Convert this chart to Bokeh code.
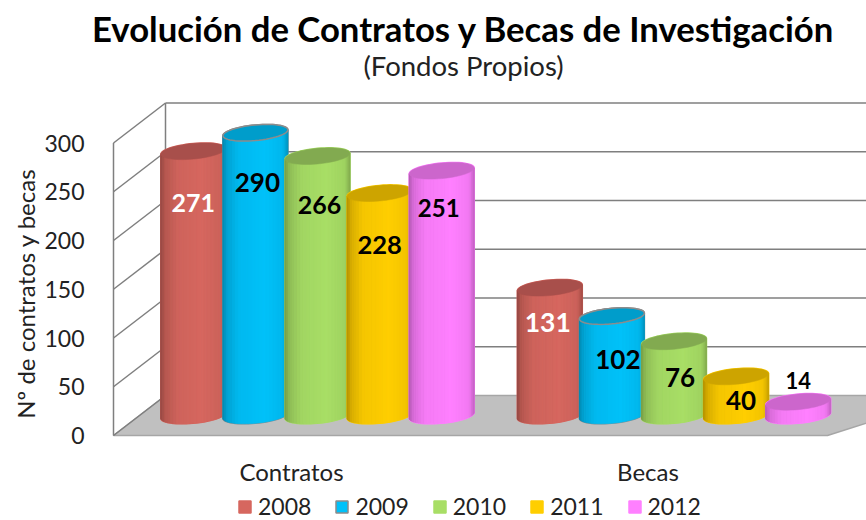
import numpy as np
from bokeh.core.properties import value
from bokeh.embed import file_html
from bokeh.resources import INLINE
from bokeh.plotting import figure
from bokeh.models import Range1d, Legend, LegendItem, FixedTicker

groups = ["Contratos", "Becas"]
years = ["2008", "2009", "2010", "2011", "2012"]
contratos = [271, 290, 266, 228, 251]
becas = [131, 102, 76, 40, 14]
series_colors = ["#D6675F", "#00C1F9", "#A8DE66", "#FFCE00", "#FF80FF"]
top_colors = ["#A84F4B", "#009DCB", "#82AA50", "#CDA400", "#CC66CC"]
value_ticks = [0, 50, 100, 150, 200, 250, 300]
title_text = "Evolución de Contratos y Becas de Investigación"
subtitle_text = "(Fondos Propios)"
ylabel_text = "Nº de contratos y becas"
label_colors = [["white", "black", "black", "black", "black"],
                ["white", "black", "black", "black", "black"]]
label_sizes = [[25, 26, 25, 25.5, 24], [26.5, 26, 26, 26, 22]]
label_dx = [[0, 2, 2, 0, -3], [-2, 6, 6, 5, 0]]
label_dy = [[52, 50, 49, 52, 37], [35, 43, 36, 24, -21]]

W, H = 866, 520
XU, YU = 356.5, 0.975                      # px per group, px per value
X0_REF, Y0_REF = 291, 435                  # window px of x=0, v=0
FONT = "Lato"
TXT = "#222222"
GRID = "#7F7F7F"


def X(px):
    return (px - X0_REF) / XU


def Y(px):
    return (Y0_REF - px) / YU


p = figure(width=W, height=H, output_backend="svg", toolbar_location=None,
           x_range=Range1d(X(0), X(W)), y_range=Range1d(Y(H), Y(0)),
           min_border=0, outline_line_color=None)
p.xgrid.visible = False
p.ygrid.visible = False

DEPTH_X, DEPTH_Y = 52 / XU, 40 / YU        # full depth of the box
x_wall = X(113)
x_floor_front = X(827)
x_end = X(900)

# floor
p.patch([x_wall, x_wall + DEPTH_X, x_end + DEPTH_X, x_floor_front],
        [0, DEPTH_Y, DEPTH_Y, 0], fill_color="#C0C0C0", line_color="#A6A6A6", line_width=1.5)
# walls and grid
for v in value_ticks:
    p.line([x_wall, x_wall + DEPTH_X], [v, v + DEPTH_Y], line_color=GRID, line_width=1.5)
    if v:
        p.line([x_wall + DEPTH_X, x_end], [v + DEPTH_Y, v + DEPTH_Y], line_color=GRID, line_width=1.5)
p.line([x_wall, x_wall], [0, value_ticks[-1]], line_color=GRID, line_width=1.5)
p.line([x_wall + DEPTH_X, x_wall + DEPTH_X], [DEPTH_Y, value_ticks[-1] + DEPTH_Y], line_color=GRID, line_width=1.5)

# cylinders
A, B, SHEAR = 32.5 / XU, 7.8 / YU, 0.09
STEP = 62.1 / XU
profile_u = [-1, -0.85, -0.5, 0.3, 0.85, 1]
profile_f = [0.70, 0.85, 0.96, 1.0, 0.95, 0.78]


def shade(col, f):
    c = [int(col[i:i + 2], 16) for i in (1, 3, 5)]
    return "#%02X%02X%02X" % tuple(int(round(x * f)) for x in c)


def ell(cy, u):
    """Lower and upper edge of a sheared ellipse, for u in [-1, 1]."""
    s = (SHEAR * A * u * XU) / YU
    h = B * np.sqrt(np.clip(1 - u * u, 0, 1))
    return cy + s - h, cy + s + h


legend_renderers = [None] * len(years)
label_x, label_y, label_text, label_col, label_fs, label_xo, label_yo = [], [], [], [], [], [], []

for g, vals in enumerate([contratos, becas]):
    for s, v in enumerate(vals):
        cx = g + DEPTH_X / 2 + (s - 2) * STEP
        base = DEPTH_Y / 2
        top = base + v
        us = np.sin(np.linspace(-np.pi / 2, np.pi / 2, 29))
        lo_b, _ = ell(base, us)
        lo_t, hi_t = ell(top, us)
        xs = cx + A * us
        outline = "#8C8C8C" if s == 1 else series_colors[s]
        r = p.patch(list(xs) + list(xs[::-1]), list(lo_b) + list(hi_t[::-1]),
                    fill_color=series_colors[s], line_color=outline, line_width=1.5)
        if g == 0:
            legend_renderers[s] = r
        sx, sy, cols = [], [], []
        for i in range(len(us) - 1):
            sx.append([xs[i], xs[i + 1], xs[i + 1], xs[i]])
            sy.append([lo_b[i], lo_b[i + 1], lo_t[i + 1], lo_t[i]])
            cols.append(shade(series_colors[s], float(np.interp((us[i] + us[i + 1]) / 2, profile_u, profile_f))))
        p.patches(sx, sy, fill_color=cols, line_color=cols, line_width=0.6)
        p.patch(list(xs) + list(xs[::-1]), list(lo_t) + list(hi_t[::-1]),
                fill_color=top_colors[s],
                line_color="#8C8C8C" if s == 1 else top_colors[s], line_width=1.5 if s == 1 else 0.5)
        label_x.append(cx)
        label_y.append(top)
        label_text.append(str(v))
        label_col.append(label_colors[g][s])
        label_fs.append(f"{label_sizes[g][s]}px")
        label_xo.append(label_dx[g][s])
        label_yo.append(label_dy[g][s])

p.text(x=label_x, y=label_y, text=label_text, text_color=label_col, text_font_size=label_fs,
       x_offset=label_xo, y_offset=label_yo, text_align="center", text_baseline="middle",
       text_font=value(FONT), text_font_style="bold")

# axes, fixed inside the frame
xa, ya = p.xaxis[0], p.yaxis[0]
xa.fixed_location = 0
xa.ticker = FixedTicker(ticks=[0, 1])
xa.major_label_overrides = {0: groups[0], 1: groups[1]}
xa.major_tick_line_color = None
xa.minor_tick_line_color = None
xa.axis_line_color = None
xa.major_label_text_font = FONT
xa.major_label_text_font_size = "24px"
xa.major_label_text_color = TXT
xa.major_label_standoff = 15

ya.fixed_location = x_wall
ya.ticker = FixedTicker(ticks=value_ticks)
ya.major_tick_line_color = None
ya.minor_tick_line_color = None
ya.axis_line_color = None
ya.major_label_text_font = FONT
ya.major_label_text_font_size = "23px"
ya.major_label_text_color = TXT
ya.major_label_standoff = 23

# titles
p.text(x=[X(463)], y=[Y(28)], text=[title_text], text_font=value(FONT), text_font_size="34.7px",
       text_font_style="bold", text_color="#000000", text_align="center", text_baseline="middle")
p.text(x=[X(463)], y=[Y(65)], text=[subtitle_text], text_font=value(FONT), text_font_size="27.5px",
       text_color=TXT, text_align="center", text_baseline="middle")
p.text(x=[X(25)], y=[Y(293)], text=[ylabel_text], text_font=value(FONT), text_font_size="24px",
       text_color=TXT, text_align="center", text_baseline="middle", angle=np.pi / 2)

legend = Legend(items=[LegendItem(label=y, renderers=[r]) for y, r in zip(years, legend_renderers)],
                orientation="horizontal", location=(237, 0), border_line_color=None,
                background_fill_alpha=0, glyph_width=15, glyph_height=15, label_standoff=6,
                spacing=23, padding=0, margin=0, label_text_font=FONT, label_text_font_size="23px",
                label_text_color=TXT)
p.add_layout(legend, "center")

open("out.html", "w").write(file_html(p, INLINE))
